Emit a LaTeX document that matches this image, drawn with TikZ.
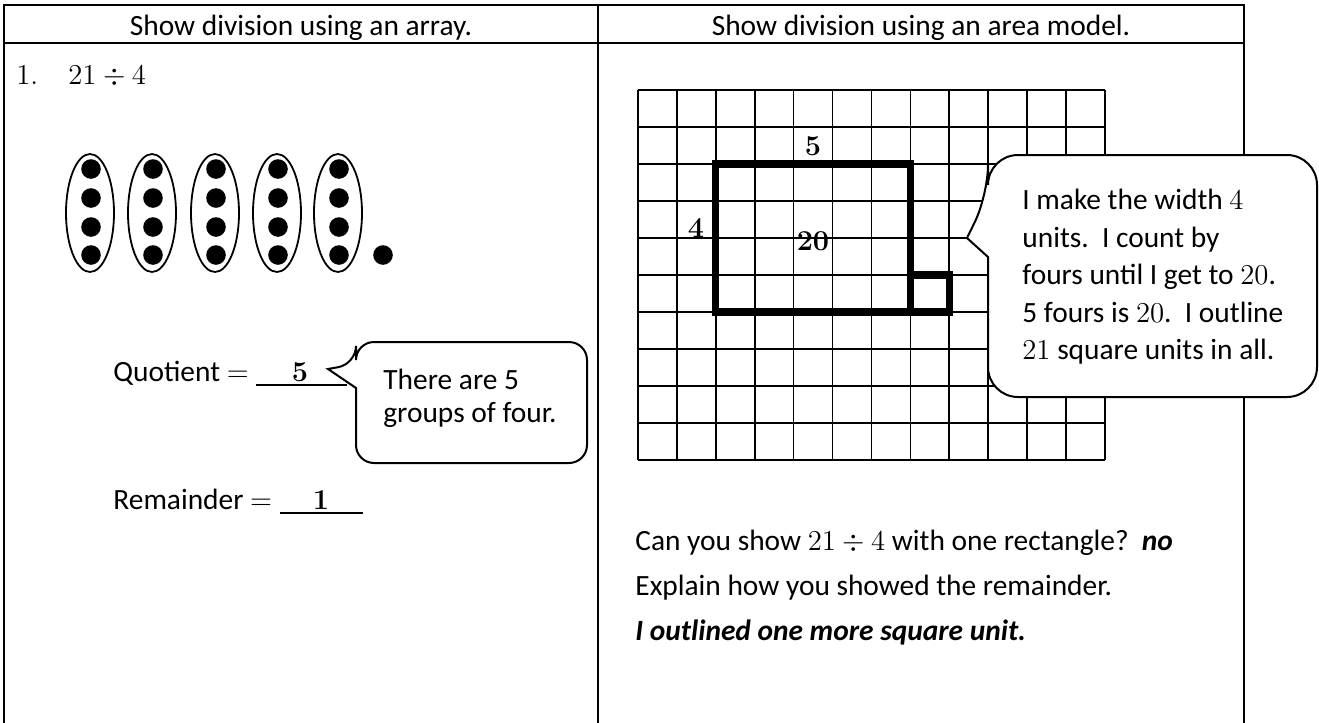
\documentclass[tikz,border=0pt]{standalone}
\usepackage[no-math]{fontspec}
\setmainfont{Carlito}
\usetikzlibrary{positioning}
\tikzset{
  cellline/.style={line width=1pt},
  gridline/.style={line width=0.8pt},
  outline/.style={line width=3.6pt},
  group/.style={line width=0.9pt},
  rule/.style={line width=0.7pt},
  bubble/.style={draw, line width=1pt, fill=white},
  txt/.style={font=\fontsize{14.7}{18.75}\selectfont, inner sep=0pt},
}

\begin{document}
\begin{tikzpicture}[x=0.5pt, y=-0.5pt]
    \useasboundingbox (0,0) rectangle (1319,723);
    % table frame
    \draw[cellline] (4,723) -- (4,5) -- (1244,5) -- (1244,723);
    \draw[cellline] (4,43) -- (1244,43);
    \draw[cellline] (598,5) -- (598,723);
    \node[txt, anchor=base] (headl) at (301,35) {Show division using an array.};
    \node[txt, anchor=base] (headr) at (921,35) {Show division using an area model.};
    \node[txt, anchor=base west] (num) at (16,84) {$1.$};
    \node[txt, anchor=base west] (prob) at (68,84) {$21 \div 4$};
    % array of dots
    \foreach \x in {90,152,215,277,338} {
      \draw[group] (\x,213) ellipse [x radius=12pt, y radius=29.5pt];
      \foreach \y in {169,198,227,255}
        \fill (\x+1,\y) circle (4.9pt);
    }
    \fill (383,255) circle (4.9pt);
    % quotient and remainder
    \node[txt, anchor=base west] (quot) at (113,381) {Quotient $=$};
    \node[txt, anchor=base] (quotval) at (300,381) {$\mathbf{5}$};
    \draw[rule] (256,385) -- (347,385);
    \node[txt, anchor=base west] (rem) at (113,509) {Remainder $=$};
    \node[txt, anchor=base] (remval) at (321,509) {$\mathbf{1}$};
    \draw[rule] (280,513) -- (363,513);
    \draw[bubble] (356,388) [rounded corners=9pt] -- (356,463) -- (587,463)
      -- (587,342) -- (356,342) -- (356,364) [sharp corners] -- (328,369) -- cycle;
    \node[txt, anchor=base west] (groupsa) at (383,389) {There are 5};
    \node[txt, anchor=base west] (groupsb) at (383,422) {groups of four.};
    % area model grid
    \foreach \i in {0,...,12}
      \draw[gridline] (638+38.9*\i,90) -- (638+38.9*\i,460);
    \foreach \j in {0,...,10}
      \draw[gridline] (638,90+37*\j) -- (1105,90+37*\j);
    \draw[outline] (715.8,164) rectangle (910.3,312);
    \draw[outline] (910.3,275) rectangle (949.2,312);
    \node[txt, anchor=base] (len) at (813,155) {$\mathbf{5}$};
    \node[txt, anchor=base] (wid) at (696,237) {$\mathbf{4}$};
    \node[txt, anchor=base] (area) at (813,250) {$\mathbf{20}$};
    \draw[bubble] (988,257) [rounded corners=15pt] -- (988,397) -- (1317,397)
      -- (1317,155) -- (988,155) -- (988,195) [sharp corners] -- (967,238) -- cycle;
    \node[txt, anchor=base west] (expa) at (1022,209.5) {I make the width $4$};
    \node[txt, anchor=base west] (expb) at (1022,247) {units.\ \ I count by};
    \node[txt, anchor=base west] (expc) at (1022,284.5) {fours until I get to $20$.};
    \node[txt, anchor=base west] (expd) at (1022,322) {5 fours is $20$.\ \ I outline};
    \node[txt, anchor=base west] (expe) at (1022,359.5) {$21$ square units in all.};
    % questions below the grid
    \node[txt, anchor=base west] (askone) at (635,550) {Can you show $21 \div 4$ with one rectangle?\ \ \textbf{\textit{no}}};
    \node[txt, anchor=base west] (askrem) at (635,595) {Explain how you showed the remainder.};
    \node[txt, anchor=base west] (answer) at (635,640) {\textbf{\textit{I outlined one more square unit.}}};
\end{tikzpicture}
\end{document}
